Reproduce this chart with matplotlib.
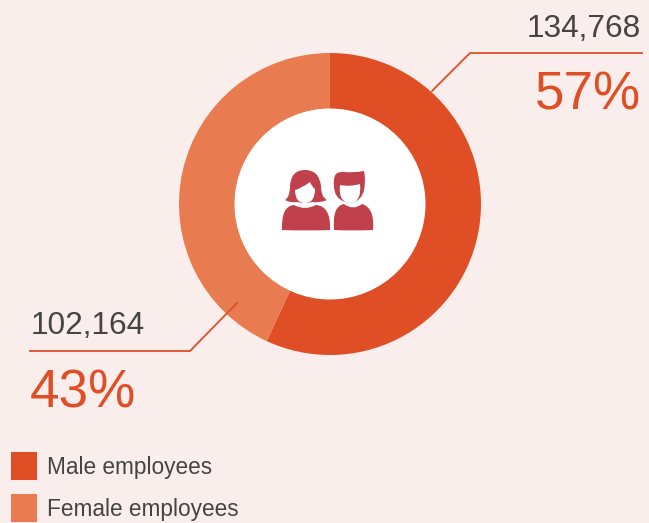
import matplotlib
matplotlib.use('Agg')
import matplotlib.pyplot as plt
from matplotlib.patches import Circle, PathPatch, Rectangle
from matplotlib.path import Path

plt.rcParams['font.family'] = ['Liberation Sans', 'DejaVu Sans']

categories = ['Male employees', 'Female employees']
employees = [134768, 102164]
count_labels = ['134,768', '102,164']
pct_labels = ['57%', '43%']

BG = '#f9eeec'
MALE = '#e04e26'
FEMALE = '#e97b50'
ICON = '#c0404b'
DARK = '#454343'
W, H = 649, 523

def flip(pts):
    return [(x, H - y) for x, y in pts]

def blob(start, curves, color, z):
    # closed shape from quadratic curves, points given in pixels from top left
    verts = [start]
    codes = [Path.MOVETO]
    for ctrl, end in curves:
        verts += [ctrl, end]
        codes += [Path.CURVE3, Path.CURVE3]
    verts.append(start)
    codes.append(Path.CLOSEPOLY)
    ax.add_patch(PathPatch(Path(flip(verts), codes), fc=color, ec='none', zorder=z))

fig = plt.figure(figsize=(W / 100, H / 100), dpi=100, facecolor=BG)
ax = fig.add_axes([0, 0, 1, 1])

# donut
ax.pie(employees, colors=[MALE, FEMALE], startangle=90, counterclock=False,
       center=(330, H - 204), radius=151, frame=True,
       wedgeprops=dict(width=56, linewidth=0))
ax.set_xlim(0, W)
ax.set_ylim(0, H)
ax.axis('off')
ax.add_patch(Circle((330, H - 204), 95.5, fc='white', ec='none', zorder=3))

# icon, woman
blob((285, 200), [((290, 197), (290, 186)), ((291, 170), (305, 170)),
                  ((319, 170), (321, 186)), ((321, 197), (327, 200)),
                  ((320, 203), (312, 202)), ((305, 204), (297, 202)),
                  ((290, 203), (285, 200))], ICON, 4)
blob((295, 190), [((302, 188), (310, 182)), ((312, 187), (315, 189)),
                  ((315, 203), (305, 203)), ((295, 203), (295, 190))], 'white', 5)
blob((282, 230), [((281, 206), (294, 205)), ((305, 211), (316, 205)),
                  ((331, 206), (330, 230)), ((306, 231), (282, 230))], ICON, 4)

# icon, man
blob((334, 230), [((332, 206), (344, 204)), ((353, 211), (362, 204)),
                  ((375, 208), (373, 230)), ((353, 231), (334, 230))], ICON, 4)
blob((334, 180), [((334, 171), (344, 172)), ((354, 173), (364, 171)),
                  ((366, 180), (364, 190)), ((362, 201), (350, 203)),
                  ((337, 201), (335, 192)), ((333, 186), (334, 180))], ICON, 4)
blob((340, 185), [((350, 187), (360, 184)), ((362, 202), (350, 203)),
                  ((338, 202), (340, 185))], 'white', 5)

# leader lines
ax.plot(*zip(*flip([(432, 91), (470, 53), (642, 53)])), color=MALE, lw=1.3, zorder=6)
ax.plot(*zip(*flip([(237, 303), (190, 351), (30, 351)])), color=MALE, lw=1.3, zorder=6)

# labels
ax.text(641, H - 37, count_labels[0], ha='right', va='baseline', fontsize=22.8, color=DARK)
ax.text(641, H - 110, pct_labels[0], ha='right', va='baseline', fontsize=38.2, color=MALE)
ax.text(31, H - 334, count_labels[1], ha='left', va='baseline', fontsize=22.8, color=DARK)
ax.text(30, H - 407, pct_labels[1], ha='left', va='baseline', fontsize=38.2, color=MALE)

# legend
for y, name, col in zip([452, 494], categories, [MALE, FEMALE]):
    ax.add_patch(Rectangle((11, H - y - 28), 26, 28, fc=col, ec='none'))
    ax.text(47, H - y - 22, name, ha='left', va='baseline', fontsize=16.3, color=DARK)

fig.savefig('out.png', dpi=100, facecolor=BG)
